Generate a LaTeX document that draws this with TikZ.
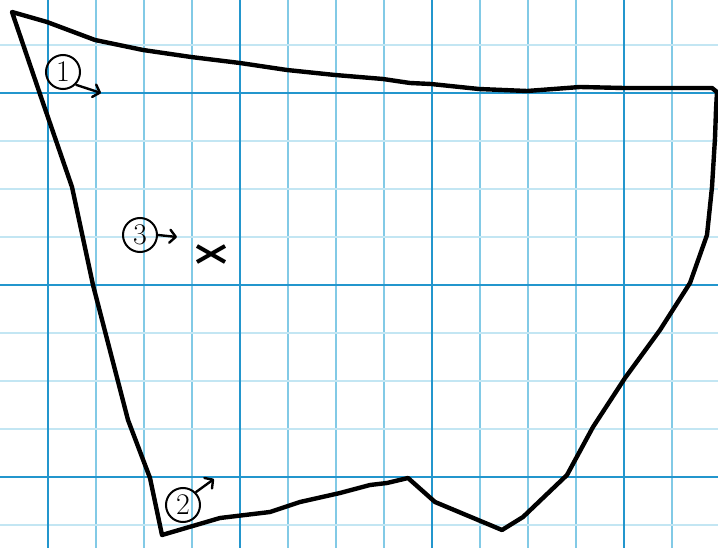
\documentclass[tikz,border=0pt]{standalone}
\usetikzlibrary{positioning,shapes.misc,arrows.meta}
\definecolor{gridmajor}{RGB}{35,150,205}
\definecolor{gridminorv}{RGB}{130,202,230}
\definecolor{gridminorh}{RGB}{195,230,243}
\tikzset{
  numlabel/.style={draw, circle, line width=2pt, minimum size=34pt, inner sep=0pt,
                   font=\fontsize{30}{30}\selectfont},
  pointer/.style={->, line width=2.4pt},
  outline/.style={line width=4.4pt, line join=round, line cap=round},
  crossmark/.style={draw, cross out, line width=4pt, minimum width=24pt, minimum height=12pt, inner sep=0pt}
}
\begin{document}
\begin{tikzpicture}[x=1pt, y=-1pt, >={Straight Barb[length=6pt, width=13pt, round]}]
        \useasboundingbox[fill=white] (0,0) rectangle (718,548);
        
        % Karopapier
        \foreach \gx in {96,144,192,288,336,384,480,528,576,672}
          \draw[gridminorv, line width=1.3pt] (\gx,0) -- (\gx,548);
        \foreach \gy in {45,141,189,237,333,381,429,525}
          \draw[gridminorh, line width=1.3pt] (0,\gy) -- (718,\gy);
        \foreach \gx in {48,240,432,624}
          \draw[gridmajor, line width=2.2pt] (\gx,0) -- (\gx,548);
        \foreach \gy in {93,285,477}
          \draw[gridmajor, line width=2.2pt] (0,\gy) -- (718,\gy);
        
        % Umriss
        \draw[outline] (12,12) -- (47,22) -- (95,40) -- (143,50) -- (191,57) -- (240,63)
          -- (287,70) -- (335,75) -- (383,79) -- (410,83) -- (431,84) -- (479,89)
          -- (527,91) -- (580,87) -- (624,88) -- (672,88) -- (712,88) -- (717,92)
          -- (716,110) -- (715,138) -- (712,187) -- (707,235) -- (690,283)
          -- (660,330) -- (625,378) -- (593,427) -- (567,475) -- (523,517)
          -- (502,530) -- (435,502) -- (408,478) -- (387,483) -- (370,485)
          -- (340,493) -- (300,502) -- (270,512) -- (220,518) -- (162,535)
          -- (150,478) -- (128,420) -- (93,285) -- (72,187) -- (42,100) -- cycle;
        
        % Markierungen
        \node[numlabel] (one) at (63,72) {1};
        \coordinate (onetip) at (101,93);
        \draw[pointer] (one.south east) -- (onetip);
        
        \node[numlabel] (two) at (183,505) {2};
        \coordinate (twotip) at (214,479);
        \draw[pointer] (two.north east) -- (twotip);
        
        \node[numlabel] (three) at (140,235) {3};
        \coordinate (threetip) at (177,237);
        \draw[pointer] (three.east) -- (threetip);
        
        % Kreuz
        \node[crossmark] (cross) at (211,254) {};
    \end{tikzpicture}
\end{document}
